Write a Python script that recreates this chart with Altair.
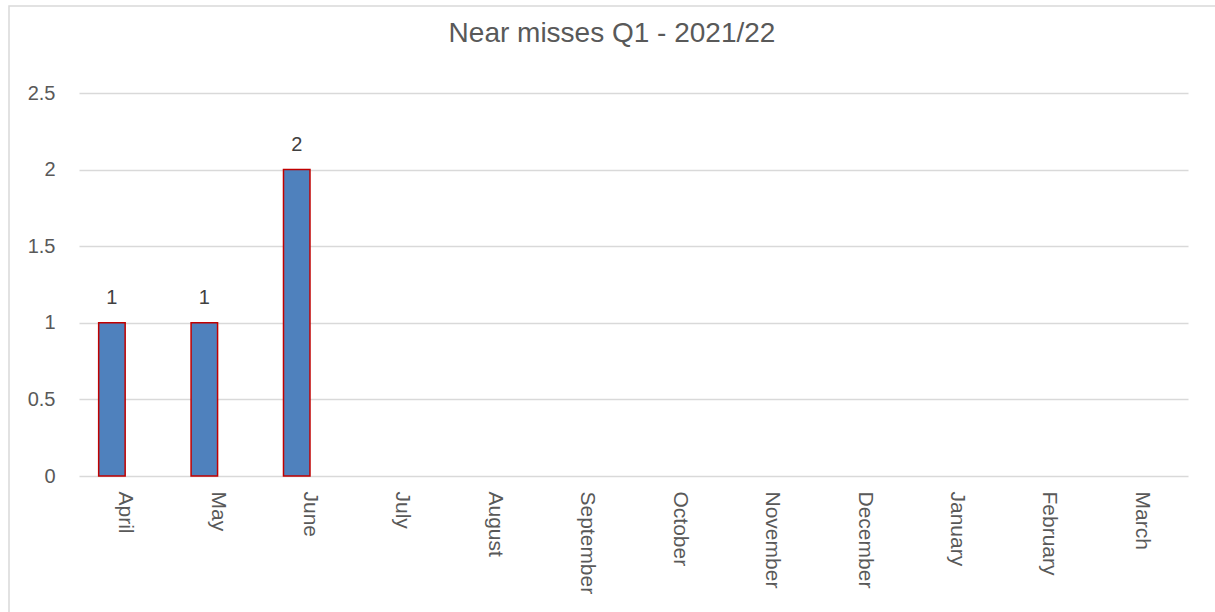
import altair as alt
import pandas as pd

months = ["April", "May", "June", "July", "August", "September", "October",
          "November", "December", "January", "February", "March"]
near_misses = [1, 1, 2, None, None, None, None, None, None, None, None, None]
title_text = "Near misses Q1 - 2021/22"

df = pd.DataFrame({"Month": months, "Count": near_misses})
bars_df = df.dropna()

FONT = "Liberation Sans"
TXT = "#595959"

x_enc = alt.X("Month:N", sort=months, scale=alt.Scale(domain=months, paddingInner=0, paddingOuter=0),
              axis=alt.Axis(title=None, labelAngle=90, labelAlign="left", labelBaseline="middle",
                            labelPadding=15, ticks=False, domain=False, labelFontSize=21,
                            labelColor=TXT, labelFont=FONT, grid=False))
y_scale = alt.Scale(domain=[0, 2.5], nice=False)

border = alt.Chart(pd.DataFrame({"a": [0]})).mark_rect(
    fill=None, stroke="#D9D9D9", strokeWidth=1.5
).encode(x=alt.value(-70), x2=alt.value(1160), y=alt.value(-87), y2=alt.value(540))

title = alt.Chart(pd.DataFrame({"t": [title_text]})).mark_text(
    fontSize=28, font=FONT, color=TXT, align="center", baseline="middle"
).encode(x=alt.value(533), y=alt.value(-59), text="t:N")

base = alt.Chart(bars_df)

grid = alt.Chart(df).mark_bar(opacity=0).encode(
    x=x_enc,
    y=alt.Y("Count:Q", scale=y_scale,
            axis=alt.Axis(title=None, values=[0, 0.5, 1, 1.5, 2, 2.5], format="~g",
                          ticks=False, domain=False, gridColor="#D9D9D9", gridWidth=1.5,
                          labelFontSize=20, labelColor=TXT, labelFont=FONT, labelPadding=24)),
)

bars = base.mark_bar(fill="#4F81BD", stroke="#C00000", strokeWidth=1.5,
                     width=26.5, xOffset=-13.3).encode(
    x=alt.X("Month:N", sort=months),
    y=alt.Y("Count:Q", scale=y_scale),
)

labels = base.mark_text(dy=-25, xOffset=-13.3, fontSize=20, color="#404040", font=FONT).encode(
    x=alt.X("Month:N", sort=months),
    y=alt.Y("Count:Q", scale=y_scale),
    text=alt.Text("Count:Q", format="d"),
)

chart = alt.layer(border, title, grid, bars, labels).properties(
    width=1109, height=383,
    autosize=alt.AutoSizeParams(type="none"),
    padding={"left": 79, "top": 93, "right": 27, "bottom": 136},
    background="white",
).configure_view(stroke=None)

chart.save("out.html", embed_options={"renderer": "svg", "actions": False})
